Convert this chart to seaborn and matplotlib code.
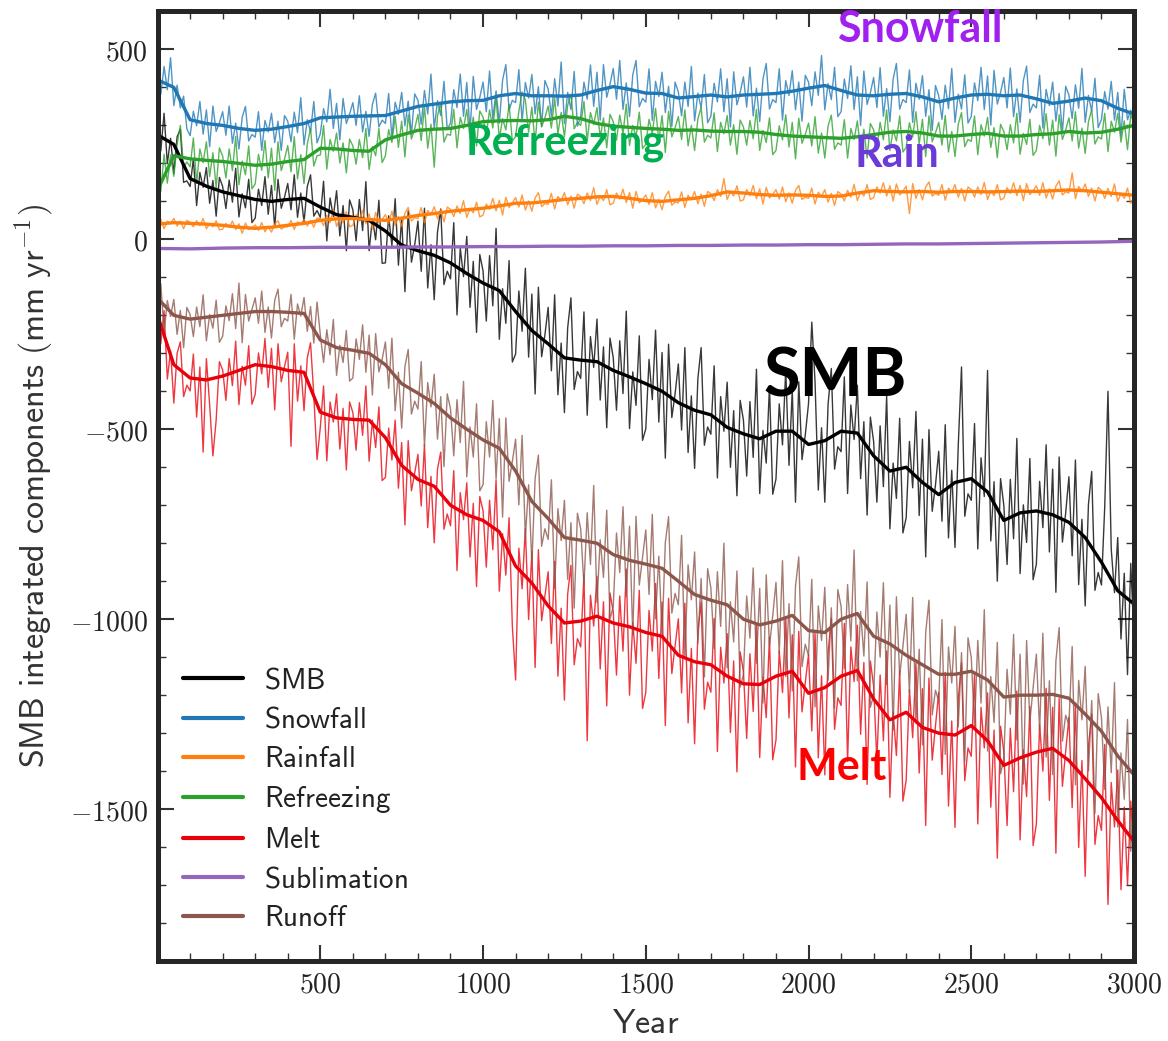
import numpy as np
import pandas as pd
import matplotlib
matplotlib.use("Agg")
import matplotlib.pyplot as plt
import seaborn as sns
from matplotlib.ticker import FixedLocator, MultipleLocator, FuncFormatter

# ---------------------------------------------------------------------------
# Data: decadal values (thin lines) and 50-year running means (thick lines)
# ---------------------------------------------------------------------------
years_raw = np.arange(0, 3001, 10)
years_smooth = np.arange(0, 3001, 50)
years_subl = np.arange(0, 3001, 100)

smb_raw = [
    318, 233, 332, 199, 266, 173, 270, 290, 150, 154,
    139, 212, 89, 176, 137, 189, 95, 155, 61, 163,
    139, 81, 156, 98, 187, 59, 120, 83, 158, 44,
    56, 132, 89, 165, 66, 142, 31, 158, 82, 111,
    147, 78, 170, 58, 122, 45, 139, 170, 61, 76,
    58, 153, -4, 109, 60, 128, 9, 89, -30, 104,
    78, -4, 105, 23, 152, -30, 55, -1, 103, -63,
    -62, 62, -17, 107, -68, 57, -138, 75, -60, -15,
    48, -84, 82, -128, -14, -159, 19, 80, -119, -84,
    -104, 44, -199, -23, -98, 8, -179, -58, -245, -40,
    -83, -215, -43, -175, 29, -263, -130, -221, -56, -323,
    -302, -136, -242, -76, -310, -144, -407, -126, -309, -252,
    -179, -346, -146, -409, -273, -456, -233, -154, -395, -348,
    -366, -191, -463, -256, -337, -210, -423, -283, -496, -260,
    -311, -450, -267, -406, -189, -498, -349, -437, -254, -529,
    -499, -316, -422, -239, -481, -298, -576, -276, -469, -407,
    -328, -502, -285, -561, -412, -603, -367, -285, -542, -494,
    -513, -333, -628, -414, -505, -376, -600, -451, -675, -424,
    -476, -623, -427, -574, -342, -669, -503, -589, -387, -671,
    -631, -433, -541, -343, -595, -397, -692, -375, -580, -515,
    -432, -218, -374, -660, -496, -692, -435, -340, -605, -546,
    -559, -362, -669, -436, -527, -384, -630, -480, -726, -468,
    -532, -692, -491, -651, -412, -762, -589, -682, -471, -773,
    -733, -532, -654, -453, -727, -526, -836, -501, -716, -647,
    -558, -742, -488, -786, -608, -811, -543, -336, -729, -670,
    -687, -485, -815, -575, -677, -345, -794, -638, -900, -630,
    -700, -856, -632, -788, -524, -880, -699, -798, -577, -896,
    -855, -637, -759, -541, -823, -605, -929, -573, -797, -721,
    -625, -833, -581, -909, -737, -965, -698, -611, -924, -877,
    -910, -705, -400, -815, -930, -785, -1052, -879, -1146, -853,
    -1050,
]

snowfall_raw = [
    432, 382, 455, 394, 478, 352, 406, 346, 377, 291,
    273, 337, 299, 363, 277, 341, 244, 351, 284, 307,
    336, 274, 351, 253, 306, 238, 321, 350, 259, 276,
    269, 336, 234, 313, 283, 332, 255, 311, 234, 326,
    311, 257, 335, 281, 373, 249, 315, 283, 363, 254,
    278, 344, 309, 395, 292, 358, 262, 371, 305, 330,
    360, 300, 378, 283, 337, 271, 355, 385, 296, 314,
    305, 384, 268, 361, 329, 387, 299, 364, 276, 383,
    366, 303, 392, 330, 435, 292, 365, 326, 416, 289,
    306, 394, 347, 435, 324, 413, 285, 429, 342, 374,
    414, 336, 443, 317, 391, 306, 419, 460, 341, 366,
    360, 447, 310, 413, 372, 434, 330, 402, 298, 418,
    396, 324, 423, 351, 467, 305, 387, 342, 442, 298,
    324, 414, 369, 459, 350, 440, 314, 460, 374, 408,
    450, 369, 471, 342, 412, 323, 433, 471, 349, 371,
    361, 449, 313, 416, 376, 440, 334, 403, 297, 414,
    388, 325, 414, 350, 455, 312, 385, 346, 434, 307,
    324, 411, 362, 449, 336, 423, 296, 441, 354, 387,
    428, 348, 453, 325, 398, 310, 422, 463, 343, 368,
    360, 449, 314, 418, 379, 444, 341, 414, 311, 432,
    414, 352, 441, 379, 484, 341, 410, 368, 453, 323,
    336, 422, 371, 457, 342, 428, 300, 443, 355, 386,
    426, 347, 452, 324, 397, 310, 422, 463, 343, 368,
    360, 446, 308, 411, 369, 431, 324, 394, 287, 405,
    378, 316, 406, 344, 450, 308, 382, 343, 433, 306,
    324, 412, 365, 453, 342, 430, 301, 445, 356, 387,
    426, 346, 451, 323, 396, 308, 418, 456, 334, 356,
    346, 432, 293, 395, 352, 414, 311, 384, 281, 403,
    380, 318, 407, 345, 450, 308, 379, 337, 424, 294,
    316, 389, 343, 416, 314, 387, 272, 395, 315, 340,
    320,
]

rainfall_raw = [
    36, 53, 28, 48, 42, 55, 35, 48, 28, 50,
    45, 33, 49, 36, 55, 28, 41, 33, 49, 25,
    27, 42, 32, 48, 26, 41, 16, 43, 26, 31,
    38, 24, 44, 20, 34, 19, 40, 49, 27, 33,
    33, 50, 26, 46, 40, 53, 35, 50, 32, 56,
    55, 36, 64, 44, 78, 34, 56, 44, 73, 33,
    37, 65, 49, 76, 41, 67, 27, 71, 43, 52,
    65, 41, 74, 36, 60, 34, 69, 84, 48, 57,
    55, 84, 43, 76, 65, 86, 54, 78, 46, 85,
    79, 60, 88, 68, 102, 58, 81, 70, 98, 59,
    64, 93, 79, 108, 75, 103, 64, 111, 84, 96,
    110, 85, 117, 77, 101, 74, 109, 123, 86, 94,
    92, 121, 80, 113, 102, 123, 91, 114, 82, 119,
    113, 94, 122, 102, 136, 92, 114, 102, 131, 91,
    95, 122, 106, 132, 97, 123, 82, 126, 96, 105,
    117, 92, 123, 83, 105, 78, 113, 127, 90, 98,
    96, 125, 84, 116, 105, 126, 94, 119, 87, 126,
    120, 102, 131, 113, 160, 105, 126, 114, 141, 101,
    104, 131, 115, 142, 107, 133, 93, 137, 109, 118,
    131, 106, 138, 99, 122, 95, 129, 142, 105, 111,
    108, 135, 93, 124, 112, 131, 98, 121, 89, 126,
    119, 101, 129, 111, 145, 102, 125, 114, 144, 105,
    110, 138, 122, 149, 114, 141, 101, 146, 117, 127,
    140, 68, 147, 108, 131, 104, 138, 151, 114, 121,
    116, 144, 103, 135, 124, 144, 111, 134, 101, 138,
    131, 111, 138, 118, 150, 105, 127, 115, 144, 104,
    108, 136, 121, 149, 115, 142, 102, 147, 118, 128,
    141, 116, 149, 109, 133, 106, 140, 154, 117, 125,
    122, 175, 107, 139, 127, 146, 113, 135, 101, 137,
    129, 108, 134, 113, 146, 100, 121, 108, 135, 95,
    112,
]

refreezing_raw = [
    166, 126, 224, 148, 222, 166, 250, 300, 188, 204,
    191, 267, 147, 238, 202, 257, 165, 228, 136, 241,
    219, 162, 238, 181, 271, 144, 206, 170, 246, 133,
    146, 224, 182, 260, 162, 240, 129, 257, 181, 211,
    247, 178, 270, 159, 223, 147, 251, 292, 193, 220,
    222, 300, 185, 263, 232, 280, 201, 254, 175, 264,
    246, 198, 263, 215, 292, 184, 244, 220, 292, 202,
    220, 289, 255, 324, 242, 311, 217, 328, 264, 291,
    329, 260, 351, 240, 303, 190, 325, 360, 256, 277,
    274, 342, 241, 321, 292, 342, 266, 322, 246, 338,
    322, 274, 341, 293, 372, 264, 318, 288, 355, 259,
    271, 337, 388, 367, 282, 348, 252, 361, 296, 320,
    351, 293, 372, 278, 334, 270, 353, 382, 291, 308,
    300, 363, 259, 334, 302, 347, 268, 320, 241, 329,
    310, 261, 327, 278, 356, 247, 300, 270, 335, 239,
    250, 316, 279, 345, 260, 326, 229, 337, 270, 294,
    323, 263, 341, 246, 300, 234, 317, 347, 256, 274,
    267, 333, 231, 308, 278, 326, 248, 302, 224, 314,
    296, 248, 313, 265, 342, 234, 287, 255, 320, 223,
    234, 299, 262, 328, 243, 308, 212, 319, 253, 276,
    306, 246, 323, 227, 280, 214, 298, 327, 237, 254,
    248, 315, 214, 292, 263, 312, 235, 290, 214, 305,
    288, 241, 308, 262, 341, 234, 288, 259, 325, 230,
    242, 307, 270, 336, 251, 316, 218, 325, 257, 280,
    308, 248, 326, 230, 284, 218, 303, 334, 244, 263,
    258, 325, 223, 302, 272, 321, 242, 294, 215, 303,
    284, 236, 302, 254, 332, 224, 279, 250, 316, 221,
    234, 300, 265, 331, 248, 314, 219, 328, 263, 288,
    320, 259, 336, 240, 293, 226, 310, 341, 251, 270,
    264, 332, 231, 311, 282, 332, 256, 312, 236, 328,
    305,
]

melt_raw = [
    -170, -275, -188, -368, -294, -431, -300, -270, -414, -384,
    -399, -302, -468, -336, -560, -314, -435, -570, -476, -322,
    -344, -424, -314, -385, -268, -435, -334, -384, -280, -434,
    -408, -299, -354, -261, -390, -287, -449, -275, -375, -335,
    -297, -545, -275, -426, -333, -451, -312, -272, -410, -580,
    -495, -386, -583, -428, -481, -407, -552, -445, -607, -428,
    -456, -555, -430, -516, -386, -584, -476, -548, -441, -635,
    -627, -497, -581, -476, -655, -535, -752, -530, -662, -615,
    -566, -702, -540, -759, -624, -799, -605, -560, -763, -723,
    -754, -609, -872, -667, -738, -641, -836, -695, -914, -677,
    -714, -863, -687, -817, -634, -926, -775, -884, -733, -1018,
    -1160, -813, -920, -761, -1001, -821, -1127, -817, -1004, -939,
    -875, -1064, -848, -1150, -971, -1213, -934, -858, -1120, -1051,
    -1073, -882, -1320, -937, -1018, -887, -1131, -954, -1228, -931,
    -980, -1147, -939, -1084, -868, -1200, -1008, -1116, -924, -1235,
    -1193, -977, -1084, -906, -1156, -955, -1280, -945, -1143, -1070,
    -999, -1194, -958, -1273, -1077, -1328, -1034, -955, -1237, -1166,
    -1192, -998, -1348, -1074, -1168, -1038, -1298, -1110, -1402, -1086,
    -1138, -1314, -1091, -1243, -1012, -1364, -1152, -1259, -1047, -1370,
    -1318, -1083, -1193, -998, -1260, -1041, -1389, -1032, -1244, -1167,
    -1093, -1294, -1036, -1365, -1149, -1410, -1089, -998, -1290, -1207,
    -1227, -1011, -1374, -1073, -1164, -1016, -1303, -1114, -1435, -1110,
    -1176, -1374, -1147, -1320, -1084, -1469, -1244, -1359, -1134, -1479,
    -1424, -1185, -1312, -1116, -1405, -1183, -1543, -1155, -1371, -1280,
    -1192, -1409, -1140, -1492, -1268, -1548, -1210, -1115, -1425, -1339,
    -1361, -1144, -1539, -1232, -1339, -1194, -1495, -1292, -1629, -1282,
    -1349, -1543, -1287, -1454, -1189, -1581, -1344, -1467, -1230, -1596,
    -1539, -1276, -1400, -1182, -1477, -1232, -1616, -1209, -1440, -1348,
    -1258, -1496, -1220, -1601, -1372, -1677, -1335, -1250, -1593, -1517,
    -1556, -1330, -1751, -1430, -1547, -1397, -1712, -1495, -1700, -1479,
    -1620,
]

runoff_raw = [
    -178, -117, -245, -161, -203, -158, -250, -187, -285, -179,
    -198, -256, -178, -230, -146, -267, -198, -234, -160, -271,
    -255, -175, -214, -143, -235, -115, -272, -145, -215, -185,
    -154, -221, -136, -245, -178, -260, -160, -131, -230, -208,
    -215, -145, -263, -170, -202, -153, -242, -177, -273, -165,
    -251, -324, -238, -304, -211, -358, -279, -324, -240, -373,
    -365, -262, -316, -225, -350, -252, -410, -248, -349, -316,
    -270, -392, -260, -451, -350, -497, -335, -290, -460, -426,
    -447, -322, -545, -377, -441, -355, -526, -414, -598, -407,
    -446, -570, -422, -535, -374, -625, -494, -573, -433, -662,
    -646, -480, -573, -424, -631, -472, -731, -470, -637, -585,
    -526, -699, -516, -785, -646, -854, -629, -568, -808, -762,
    -790, -633, -919, -709, -793, -687, -895, -746, -971, -721,
    -762, -911, -720, -856, -648, -956, -791, -890, -713, -1000,
    -967, -773, -877, -704, -940, -755, -1042, -729, -910, -838,
    -765, -935, -724, -999, -834, -1042, -798, -730, -984, -932,
    -962, -779, -1101, -857, -949, -823, -1063, -893, -1152, -867,
    -918, -1077, -875, -1019, -800, -1128, -954, -1060, -873, -1179,
    -1146, -939, -1050, -865, -1116, -919, -1221, -883, -1071, -991,
    -903, -1090, -846, -1151, -959, -1189, -913, -836, -1125, -1066,
    -1096, -895, -1231, -965, -1056, -916, -1161, -970, -1235, -922,
    -966, -1130, -909, -1057, -818, -1162, -980, -1097, -902, -1232,
    -1200, -981, -1100, -904, -1172, -963, -1292, -941, -1149, -1072,
    -987, -1194, -943, -1274, -1079, -1331, -1035, -950, -1252, -1187,
    -1215, -1001, -1356, -1073, -1168, -1019, -1283, -1088, -1374, -1049,
    -1101, -1282, -1056, -1221, -975, -1347, -1151, -1272, -1061, -1407,
    -1369, -1132, -1250, -1040, -1318, -1092, -1434, -1056, -1270, -1182,
    -1092, -1294, -1037, -1363, -1162, -1409, -1110, -1022, -1321, -1253,
    -1278, -1072, -1436, -1161, -1265, -1124, -1399, -1214, -1511, -1196,
    -1259, -1448, -1231, -1404, -1167, -1547, -1352, -1474, -1264, -1611,
    -1440,
]

smb_smooth = [
    275, 250, 160, 140, 125, 115, 105, 100, 105, 108,
    85, 65, 58, 50, 22, -15, -30, -42, -62, -90,
    -115, -135, -190, -240, -275, -312, -318, -322, -345, -362,
    -380, -400, -430, -450, -462, -495, -512, -525, -505, -505,
    -540, -530, -505, -510, -570, -610, -600, -640, -672, -640,
    -630, -665, -740, -720, -715, -725, -745, -785, -850, -925,
    -960,
]
snowfall_smooth = [
    420, 400, 315, 305, 300, 292, 287, 290, 297, 305,
    320, 322, 324, 325, 326, 338, 350, 356, 362, 365,
    366, 378, 384, 378, 378, 377, 380, 392, 402, 395,
    385, 384, 372, 376, 380, 375, 380, 382, 384, 390,
    398, 405, 392, 380, 378, 382, 384, 375, 362, 372,
    380, 382, 378, 380, 370, 358, 364, 372, 365, 345,
    330,
]
rainfall_smooth = [
    40, 44, 42, 40, 37, 32, 29, 32, 37, 42,
    50, 54, 55, 52, 50, 56, 63, 68, 74, 78,
    82, 88, 95, 96, 100, 105, 108, 112, 113, 108,
    102, 100, 104, 108, 115, 125, 122, 118, 116, 117,
    116, 113, 114, 122, 128, 126, 125, 126, 124, 126,
    126, 125, 126, 127, 126, 128, 130, 128, 124, 120,
    116,
]
refreezing_smooth = [
    130, 220, 212, 208, 205, 200, 195, 198, 205, 210,
    240, 238, 234, 232, 262, 275, 287, 290, 292, 300,
    310, 312, 313, 312, 315, 324, 318, 305, 298, 295,
    292, 290, 287, 288, 285, 284, 284, 282, 276, 272,
    270, 268, 266, 270, 276, 282, 284, 280, 272, 272,
    276, 279, 272, 272, 276, 278, 284, 280, 282, 290,
    300,
]
melt_smooth = [
    -200, -330, -365, -370, -360, -345, -330, -335, -345, -350,
    -455, -470, -474, -476, -522, -595, -632, -650, -700, -725,
    -740, -770, -860, -905, -965, -1010, -1005, -992, -1010, -1020,
    -1035, -1045, -1095, -1112, -1120, -1150, -1170, -1172, -1150, -1137,
    -1195, -1180, -1150, -1135, -1210, -1265, -1245, -1285, -1300, -1305,
    -1280, -1320, -1385, -1365, -1350, -1340, -1372, -1420, -1470, -1530,
    -1585,
]
runoff_smooth = [
    -155, -200, -210, -205, -200, -195, -190, -190, -192, -195,
    -265, -285, -292, -300, -330, -380, -405, -432, -470, -500,
    -528, -550, -610, -690, -735, -785, -792, -800, -830, -845,
    -855, -866, -900, -935, -950, -962, -1000, -1015, -1005, -990,
    -1030, -1035, -1000, -985, -1045, -1065, -1095, -1120, -1145, -1145,
    -1137, -1160, -1205, -1200, -1200, -1198, -1208, -1250, -1295, -1360,
    -1410,
]
sublimation = [
    -24, -25, -23, -22, -22, -21, -21, -21, -20, -20,
    -19, -19, -18, -18, -17, -17, -16, -16, -15, -15,
    -14, -14, -13, -12, -12, -11, -10, -9, -8, -7,
    -5,
]

components = ["SMB", "Snowfall", "Rainfall", "Refreezing", "Melt", "Sublimation", "Runoff"]
colors = {
    "SMB": "#000000",
    "Snowfall": "#1f77b4",
    "Rainfall": "#ff7f0e",
    "Refreezing": "#2ca02c",
    "Melt": "#e8000b",
    "Sublimation": "#9467bd",
    "Runoff": "#8c564b",
}

raw = pd.DataFrame({
    "Year": years_raw,
    "SMB": smb_raw,
    "Snowfall": snowfall_raw,
    "Rainfall": rainfall_raw,
    "Refreezing": refreezing_raw,
    "Melt": melt_raw,
    "Runoff": runoff_raw,
})
smooth = pd.DataFrame({
    "Year": years_smooth,
    "SMB": smb_smooth,
    "Snowfall": snowfall_smooth,
    "Rainfall": rainfall_smooth,
    "Refreezing": refreezing_smooth,
    "Melt": melt_smooth,
    "Runoff": runoff_smooth,
})
subl = pd.DataFrame({"Year": years_subl, "Sublimation": sublimation})

# ---------------------------------------------------------------------------
# Figure
# ---------------------------------------------------------------------------
sns.set_style("ticks")
plt.rcParams["mathtext.fontset"] = "cm"
plt.rcParams["font.family"] = ["DejaVu Sans"]
plt.rcParams["axes.unicode_minus"] = True

fig = plt.figure(figsize=(11.68, 10.41), dpi=100)
ax = fig.add_axes([0.1349, 0.0768, 0.836, 0.9122])

# thin decadal series underneath
for name in components:
    if name == "Sublimation":
        continue
    sns.lineplot(data=raw, x="Year", y=name, ax=ax, color=colors[name],
                 linewidth=1.0, alpha=0.78, estimator=None, sort=False,
                 legend=False)

# running means on top
handles = {}
for name in components:
    if name == "Sublimation":
        sns.lineplot(data=subl, x="Year", y=name, ax=ax, color=colors[name],
                     linewidth=2.4, estimator=None, sort=False, legend=False)
    else:
        sns.lineplot(data=smooth, x="Year", y=name, ax=ax, color=colors[name],
                     linewidth=2.4, estimator=None, sort=False, legend=False)
    handles[name] = ax.lines[-1]

ax.set_xlim(0, 3000)
ax.set_ylim(-1900, 600)

ax.xaxis.set_major_locator(FixedLocator([500, 1000, 1500, 2000, 2500, 3000]))
ax.xaxis.set_minor_locator(MultipleLocator(100))
ax.yaxis.set_major_locator(FixedLocator([-1500, -1000, -500, 0, 500]))
ax.yaxis.set_minor_locator(MultipleLocator(100))
math_fmt = FuncFormatter(lambda v, p: r"$%d$" % int(round(v)))
ax.xaxis.set_major_formatter(math_fmt)
ax.yaxis.set_major_formatter(math_fmt)

ax.tick_params(which="both", direction="in", top=True, right=True,
               colors="#333333", labelcolor="#222222")
ax.tick_params(which="major", length=11.5, width=1.5, labelsize=20, pad=7)
ax.tick_params(which="minor", length=5.8, width=1.0)
for side in ax.spines.values():
    side.set_linewidth(3.6)
    side.set_color("#262626")

ax.set_xlabel(r"$\mathsf{Year}$", fontsize=24.5, color="#333333", labelpad=6)
ax.set_ylabel(r"$\mathsf{SMB\ integrated\ components\ (mm\ yr^{-1})}$",
              fontsize=24.5, color="#333333", labelpad=10)

leg = ax.legend([handles[n] for n in components],
                [r"$\mathsf{%s}$" % n for n in components],
                loc="upper left", bbox_to_anchor=(0.026, 0.31),
                frameon=False, fontsize=21, handlelength=2.06,
                handletextpad=0.72, labelspacing=0.38, borderpad=0,
                borderaxespad=0)
for ln in leg.get_lines():
    ln.set_linewidth(3.0)
for t in leg.get_texts():
    t.set_color("#222222")

# component annotations
annot = dict(fontfamily="Lato", fontweight="bold", ha="center", va="center")
ax.text(2342, 553, "Snowfall", color="#a020f0", fontsize=31, **annot)
ax.text(1252, 255, "Refreezing", color="#00b050", fontsize=30, **annot)
ax.text(2272, 224, "Rain", color="#6a3bd8", fontsize=31, **annot)
ax.text(2081, -364, "SMB", color="#000000", fontsize=48, **annot)
ax.text(2103, -1390, "Melt", color="#ff0000", fontsize=31, **annot)

fig.savefig("out.png", dpi=100)
